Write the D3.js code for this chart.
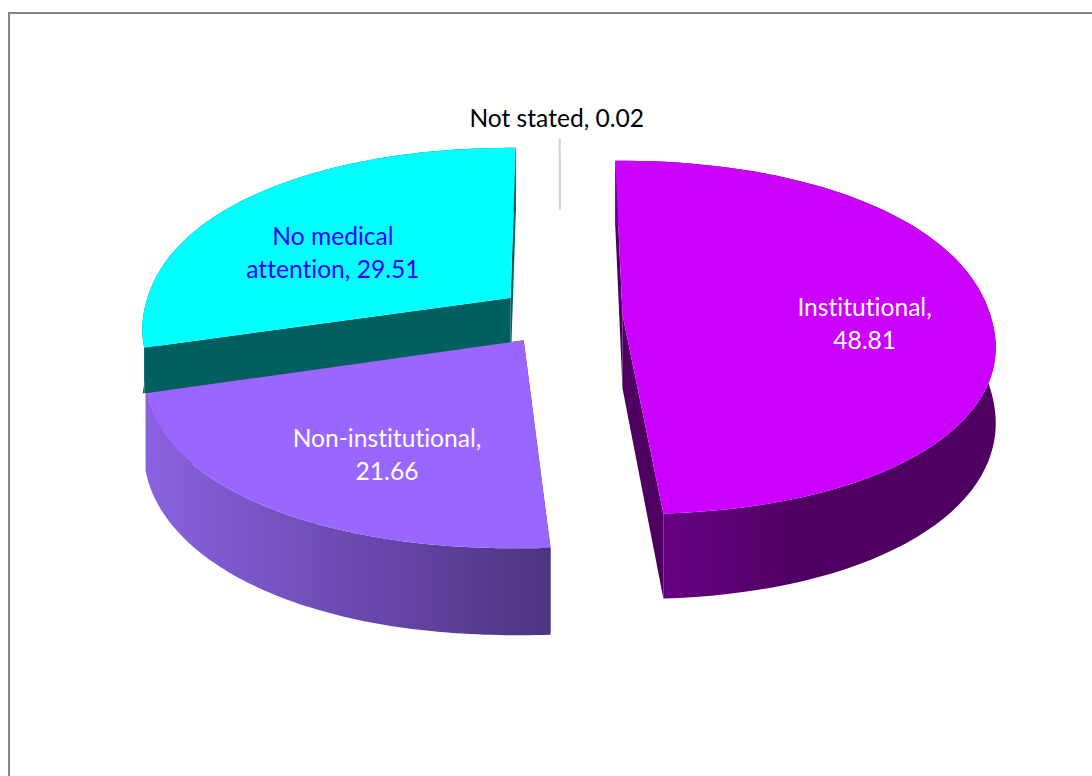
<!DOCTYPE html>
<html>
<head>
<meta charset="utf-8">
<script src="https://cdn.jsdelivr.net/npm/d3@7"></script>
<style>
  html, body { margin: 0; padding: 0; background: #fff; }
  svg { display: block; }
  text { font-family: Lato, "Open Sans", sans-serif; font-size: 24.6px; font-variant-ligatures: none; }
</style>
</head>
<body>
<div id="pie-chart"></div>
<script>
var categories = ["Institutional", "Non-institutional", "No medical attention", "Not stated"];
var values = [48.81, 21.66, 29.51, 0.02];
// first line of each wrapped label, the rest goes on line two
var firstLines = ["Institutional,", "Non-institutional,", "No medical", "Not stated, 0.02"];

var topColors = ["#cc00ff", "#9966ff", "#00ffff", "#c0c0c0"];
var faceColors = ["#4d0060", "#4d3380", "#006060", "#606060"];
var textColors = ["#ffffff", "#ffffff", "#3300ff", "#000000"];
var sideStops = [["#690085", "#4d0060"], ["#8a62e0", "#4d3380"], ["#006060", "#006060"], ["#606060", "#606060"]];

var width = 1092, height = 776;
var cx = 560, cy = 315.5;
var radiusX = 368, radiusY = 174;   // top face of the pie
var persp = 0.13;                   // how much nearer points grow
var depth = 74;
var explode = 0.17;
var roundness = 2.12;               // rim is a little fuller than an ellipse
var labelRadius = 0.7;
var labelNudge = [[-14, 13.5], [28, 1.5], [13, 21], [-3, -21]];
var lineGap = 33;

var svg = d3.select("#pie-chart")
	.append("svg")
	.attr("width", width)
	.attr("height", height);

// frame left over from the spreadsheet chart area
svg.append("path")
	.attr("d", "M9,776V13H1092")
	.attr("fill", "none")
	.attr("stroke", "#868686")
	.attr("stroke-width", 2);

var pie = d3.pie().sort(null).value(function(d){ return d; }).startAngle(0).endAngle(2 * Math.PI);
var arcs = pie(values);

// world point (r along angle, exploded along the slice mid angle) to screen
function project(arc, angle, r, z) {
	var mid = (arc.startAngle + arc.endAngle) / 2;
	var X = r * Math.sin(angle) + explode * Math.sin(mid);
	var Y = -r * Math.cos(angle) - explode * Math.cos(mid);
	var s = 1 / (1 - persp * Y);
	return [cx + radiusX * X * s, cy + (radiusY * Y + z * depth) * s];
}

function rimRadius(a) {
	var sum = Math.pow(Math.abs(Math.sin(a)), roundness) + Math.pow(Math.abs(Math.cos(a)), roundness);
	return Math.pow(sum, -1 / roundness);
}

function rim(arc, z) {
	var n = 80;
	return d3.range(n + 1).map(function(i){
		var a = arc.startAngle + (arc.endAngle - arc.startAngle) * i / n;
		return project(arc, a, rimRadius(a), z);
	});
}

var line = d3.line();
var defs = svg.append("defs");

// cyan slice is hidden below the corner of the slice in front of it
var frontCorner = project(arcs[1], arcs[1].endAngle, rimRadius(arcs[1].endAngle), 0);
defs.append("clipPath")
	.attr("id", "behindFront")
	.append("rect")
	.attr("x", 0)
	.attr("y", 0)
	.attr("width", width)
	.attr("height", frontCorner[1]);

function drawSlice(arc, i) {
	var g = svg.append("g").attr("class", "slice");
	if (i == 2) g.attr("clip-path", "url(#behindFront)");
	var topRim = rim(arc, 0), bottomRim = rim(arc, 1);
	var apexTop = project(arc, arc.startAngle, 0, 0);
	var apexBottom = project(arc, arc.startAngle, 0, 1);

	// the two cut faces
	g.append("path")
		.attr("d", line([apexTop, topRim[0], bottomRim[0], apexBottom]) + "Z")
		.attr("fill", faceColors[i]);
	g.append("path")
		.attr("d", line([apexTop, topRim[topRim.length - 1], bottomRim[bottomRim.length - 1], apexBottom]) + "Z")
		.attr("fill", faceColors[i]);

	// outer wall, gradient runs across the front part of the rim
	var xs = topRim.map(function(p){ return p[0]; });
	var grad = defs.append("linearGradient")
		.attr("id", "side" + i)
		.attr("gradientUnits", "userSpaceOnUse")
		.attr("x1", i == 0 ? d3.min(xs) + 40 : d3.min(xs))
		.attr("x2", i == 0 ? d3.min(xs) + 190 : d3.max(xs))
		.attr("y1", 0)
		.attr("y2", 0);
	grad.append("stop").attr("offset", "0%").attr("stop-color", sideStops[i][0]);
	grad.append("stop").attr("offset", "100%").attr("stop-color", sideStops[i][1]);
	g.append("path")
		.attr("d", line(topRim.concat(bottomRim.slice().reverse())) + "Z")
		.attr("fill", "url(#side" + i + ")");

	// top face
	g.append("path")
		.attr("d", line([apexTop].concat(topRim)) + "Z")
		.attr("fill", topColors[i]);
}

// back slices first, the near one goes over the cyan slice's cut face
drawSlice(arcs[2], 2);
drawSlice(arcs[0], 0);
drawSlice(arcs[1], 1);

// leader of the tiny slice
var tiny = arcs[3];
var tinyMid = (tiny.startAngle + tiny.endAngle) / 2;
var leaderTop = project(tiny, tinyMid, 1, 0);
var leaderBottom = project(tiny, tinyMid, 0.49, 0);
svg.append("path")
	.attr("d", line([leaderTop, leaderBottom]))
	.attr("stroke", "#d0d0d0")
	.attr("stroke-width", 2)
	.attr("fill", "none");

arcs.forEach(function(arc, i){
	var mid = (arc.startAngle + arc.endAngle) / 2;
	var p = i == 3 ? leaderTop : project(arc, mid, labelRadius, 0);
	var full = categories[i] + ", " + values[i];
	var rest = full.slice(firstLines[i].length).trim();
	var lines = rest ? [firstLines[i], rest] : [firstLines[i]];
	var x = p[0] + labelNudge[i][0];
	var y = p[1] + labelNudge[i][1] - (lines.length - 1) * lineGap / 2;
	var t = svg.append("text")
		.attr("text-anchor", "middle")
		.attr("fill", textColors[i]);
	lines.forEach(function(l, k){
		t.append("tspan")
			.attr("x", x)
			.attr("y", y + k * lineGap)
			.attr("dominant-baseline", "central")
			.text(l);
	});
});
</script>
</body>
</html>
